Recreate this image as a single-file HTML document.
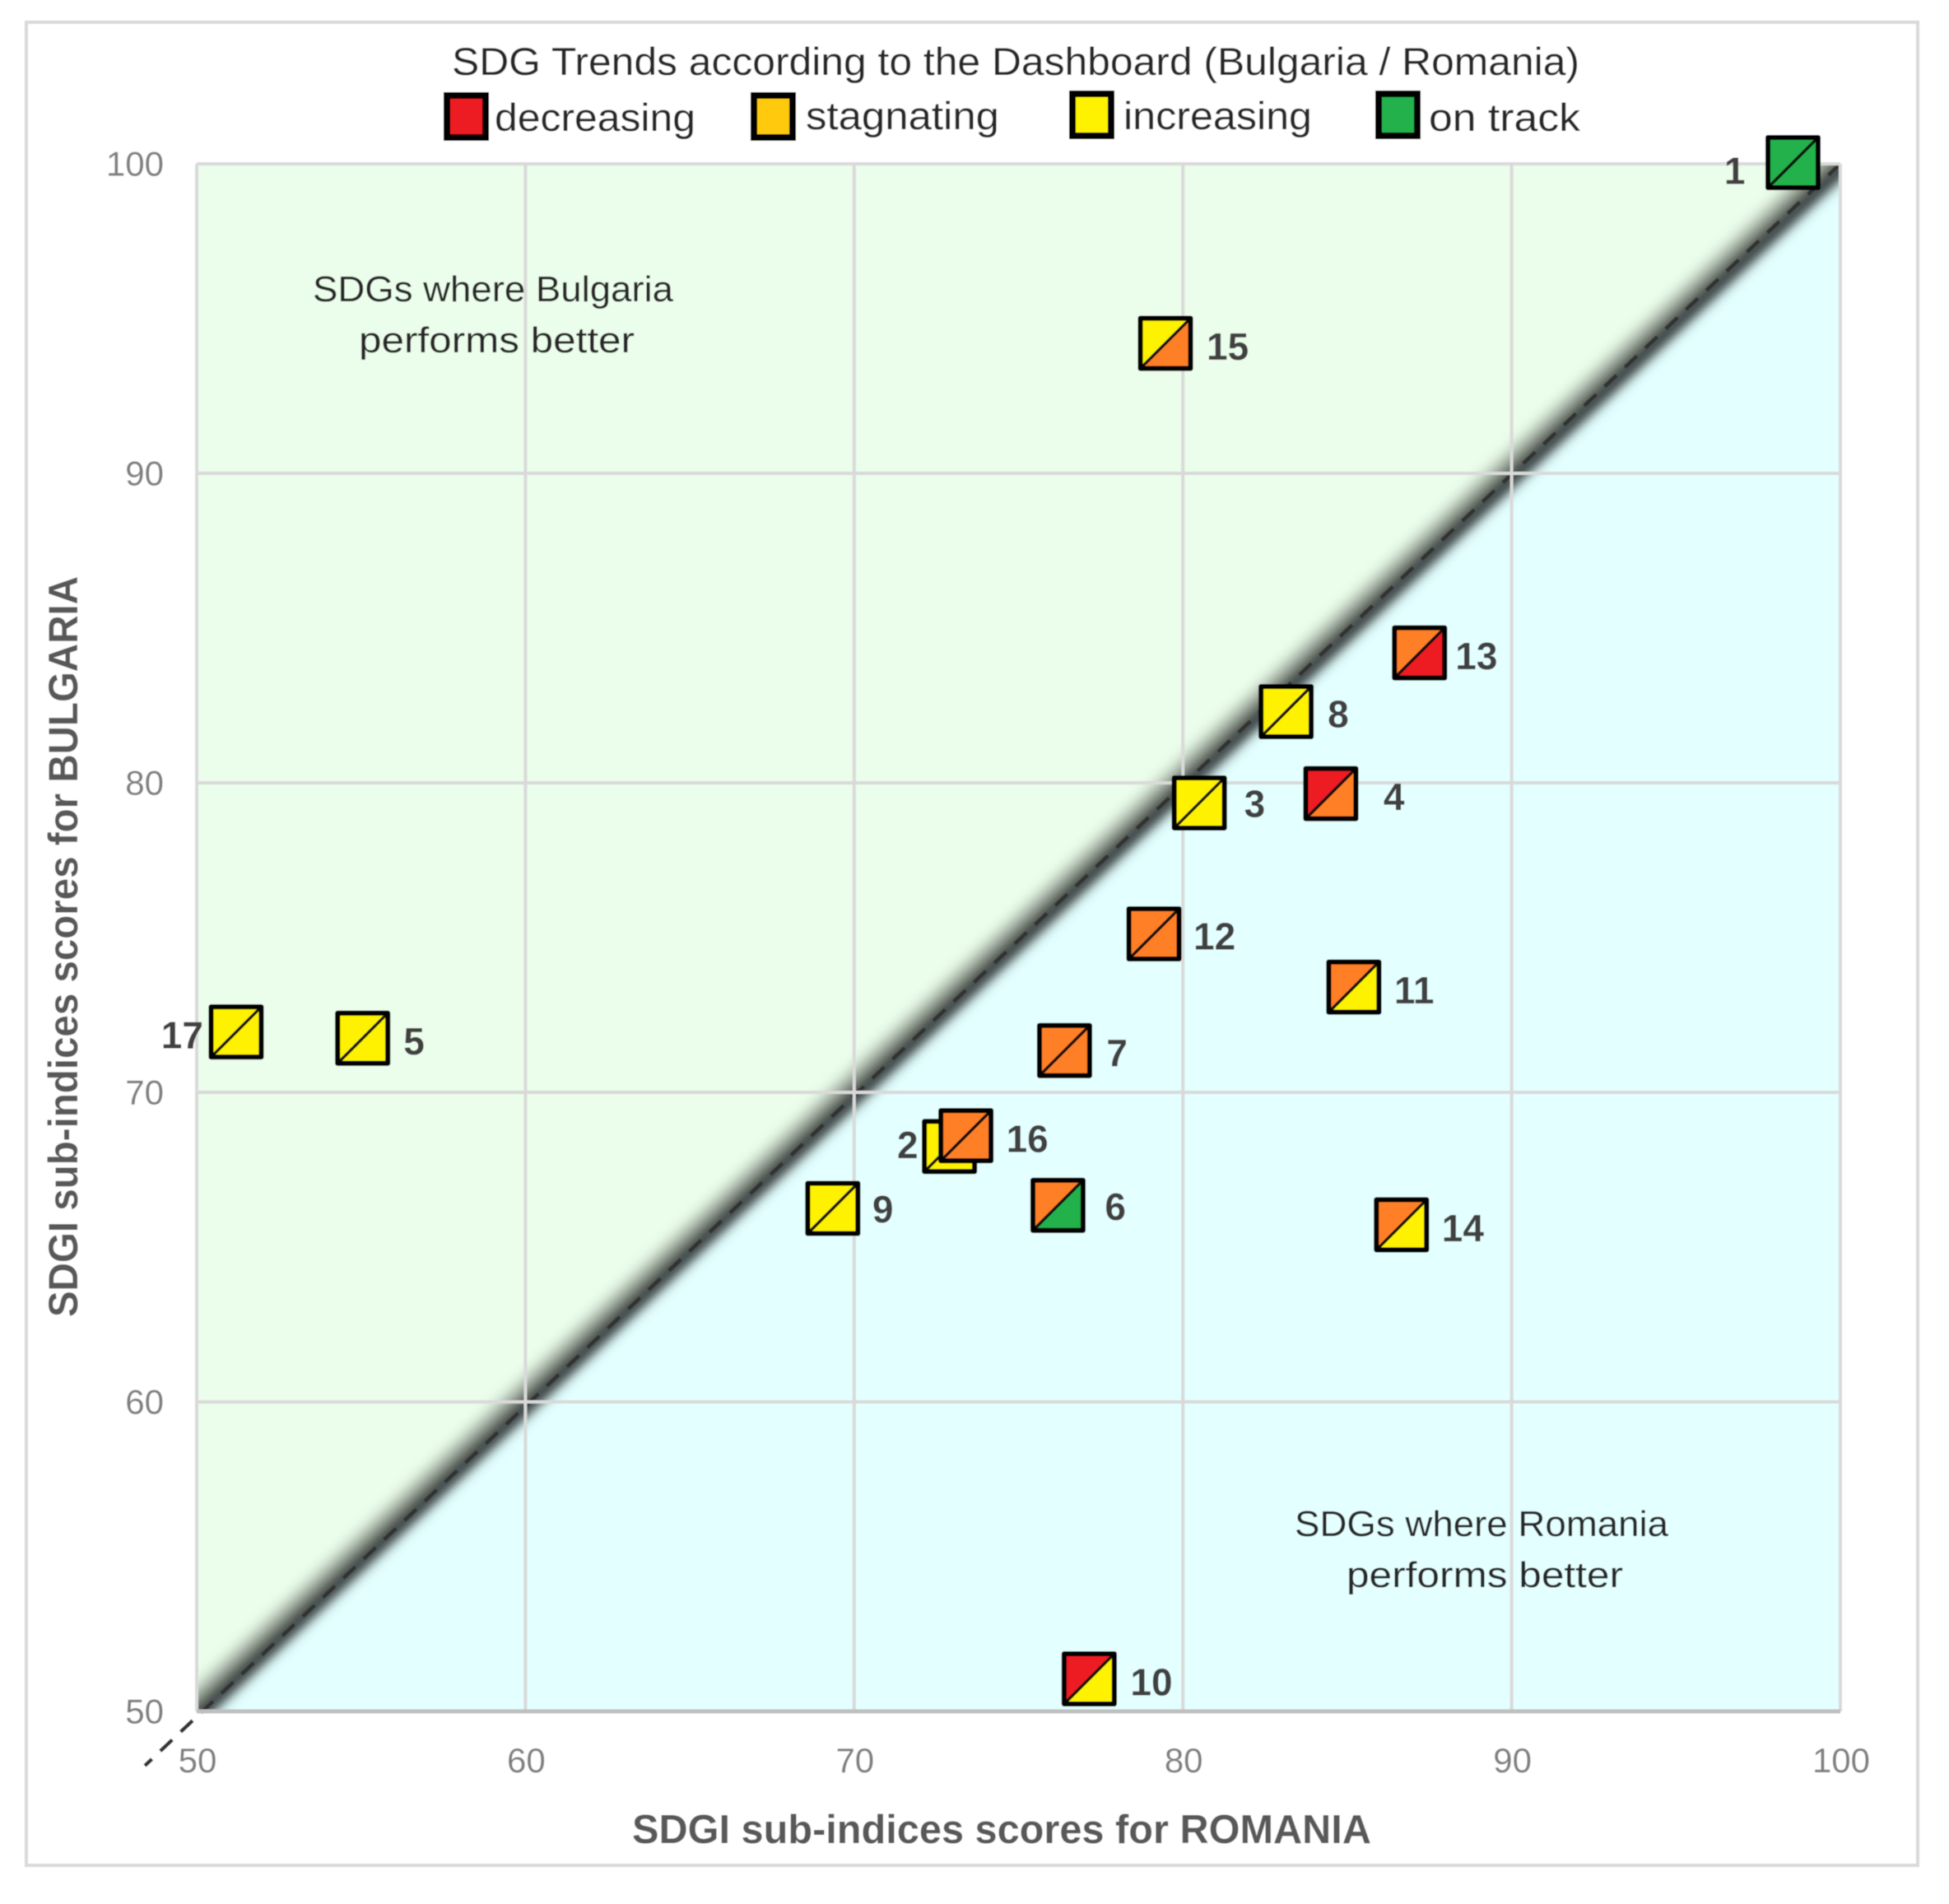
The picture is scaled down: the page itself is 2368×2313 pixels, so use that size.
<!DOCTYPE html>
<html lang="en">
<head>
<meta charset="utf-8">
<title>SDG Trends: Bulgaria vs Romania</title>
<style>
html,body{margin:0;padding:0;background:#fff;}
body{width:2368px;height:2313px;overflow:hidden;}
svg{display:block;font-family:"Liberation Sans",sans-serif;}
</style>
</head>
<body>
<svg id="chart" xmlns="http://www.w3.org/2000/svg" width="2368" height="2313" viewBox="0 0 2368 2313">
  <defs>
    <filter id="band-blur-wide" filterUnits="userSpaceOnUse" x="0" y="0" width="2368" height="2313"><feGaussianBlur stdDeviation="10"/></filter>
    <filter id="band-blur-core" filterUnits="userSpaceOnUse" x="0" y="0" width="2368" height="2313"><feGaussianBlur stdDeviation="6"/></filter>
    <filter id="soft" filterUnits="userSpaceOnUse" x="0" y="0" width="2368" height="2313"><feGaussianBlur stdDeviation="0.6"/></filter>
    <clipPath id="plot-clip"><rect x="239" y="199" width="1997" height="1880"/></clipPath>
  </defs>
  <g id="root" filter="url(#soft)">
    <rect x="32" y="27" width="2298" height="2239" fill="#fff" stroke="#d9d9d9" stroke-width="4"/>
    <g id="plot"></g>
    <text x="549" y="91" font-size="47" fill="#262626" textLength="1370" lengthAdjust="spacingAndGlyphs">SDG Trends according to the Dashboard (Bulgaria / Romania)</text>
    <g>
      <rect x="543" y="116" width="47" height="51" fill="#ED1C24" stroke="#000" stroke-width="8"/>
      <text x="601" y="159" font-size="47" fill="#262626" textLength="244" lengthAdjust="spacingAndGlyphs">decreasing</text>
      <rect x="916" y="116" width="47" height="51" fill="#FFC90E" stroke="#000" stroke-width="8"/>
      <text x="979" y="157" font-size="47" fill="#262626" textLength="235" lengthAdjust="spacingAndGlyphs">stagnating</text>
      <rect x="1303" y="114" width="47" height="51" fill="#FFF200" stroke="#000" stroke-width="8"/>
      <text x="1365" y="157" font-size="47" fill="#262626" textLength="229" lengthAdjust="spacingAndGlyphs">increasing</text>
      <rect x="1675" y="114" width="47" height="51" fill="#22B14C" stroke="#000" stroke-width="8"/>
      <text x="1736" y="159" font-size="47" fill="#262626" textLength="184" lengthAdjust="spacingAndGlyphs">on track</text>
    </g>
    <text x="768" y="2239" font-size="49" font-weight="bold" fill="#595959" textLength="898" lengthAdjust="spacingAndGlyphs">SDGI sub-indices scores for ROMANIA</text>
    <text transform="translate(94 1600) rotate(-90)" x="0" y="0" font-size="50" font-weight="bold" fill="#595959" textLength="900" lengthAdjust="spacingAndGlyphs">SDGI sub-indices scores for BULGARIA</text>
    <text x="380" y="366" font-size="44" fill="#262626" textLength="438" lengthAdjust="spacingAndGlyphs">SDGs where Bulgaria</text>
    <text x="436" y="428" font-size="44" fill="#262626" textLength="335" lengthAdjust="spacingAndGlyphs">performs better</text>
    <text x="1573" y="1866" font-size="44" fill="#262626" textLength="454" lengthAdjust="spacingAndGlyphs">SDGs where Romania</text>
    <text x="1636" y="1928" font-size="44" fill="#262626" textLength="336" lengthAdjust="spacingAndGlyphs">performs better</text>
    <g id="marks"></g>
  </g>
</svg>
<script>
const xTickLabels = [50, 60, 70, 80, 90, 100];
const yTickLabels = [50, 60, 70, 80, 90, 100];
const sdgIds        = [1, 2, 3, 4, 5, 6, 7, 8, 9, 10, 11, 12, 13, 14, 15, 16, 17];
const romaniaScores = [98.56, 72.9, 80.5, 84.5, 55.05, 76.2, 76.4, 83.14, 69.35, 77.15, 85.2, 79.12, 87.2, 86.65, 79.47, 73.4, 51.2];
const bulgariaScores = [100.04, 68.25, 79.35, 79.65, 71.75, 66.35, 71.35, 82.3, 66.25, 51.05, 73.4, 75.12, 84.2, 65.72, 94.2, 68.6, 71.95];
const trendBulgaria = ['track','inc','inc','dec','inc','sta','sta','inc','inc','dec','sta','sta','sta','sta','inc','sta','inc'];
const trendRomania  = ['track','inc','inc','sta','inc','track','sta','inc','inc','inc','inc','sta','dec','inc','sta','sta','inc'];
const labelSides    = ['left','left','right','right','right','right','right','right','right','right','right','right','right','right','right','right','left'];

const NS = 'http://www.w3.org/2000/svg';
const PLOT = {left: 239, right: 2236, top: 199, bottom: 2079};
const AXIS = {min: 50, max: 100};
const trendColors = {dec: '#ED1C24', sta: '#FF7F27', inc: '#FFF200', track: '#22B14C'};
const labelGapExtra = {1: 9, 2: -11, 17: -9, 3: 5.5, 4: 15, 5: 0.5, 6: 8, 7: 2, 8: 1.5, 9: -1, 10: 1, 12: -1, 13: -5.5, 15: 1};
const labelRaise = {2: 6, 3: 3, 6: 2, 9: 3, 7: 1, 8: 1, 12: 1};

function sx(v) { return PLOT.left + (v - AXIS.min) / (AXIS.max - AXIS.min) * (PLOT.right - PLOT.left); }
function sy(v) { return PLOT.bottom - (v - AXIS.min) / (AXIS.max - AXIS.min) * (PLOT.bottom - PLOT.top); }
function add(parent, tag, attrs, text) {
  const el = document.createElementNS(NS, tag);
  for (const k in attrs) el.setAttribute(k, attrs[k]);
  if (text !== undefined) el.textContent = text;
  parent.appendChild(el);
  return el;
}

const plot = document.getElementById('plot');
const marks = document.getElementById('marks');

const bgUpper = add(plot, 'polygon', {points: [sx(50),sy(50),sx(50),sy(100),sx(100),sy(100)].join(' '), fill: '#EBFDEB'});


const bgLower = add(plot, 'polygon', {points: [sx(50),sy(50),sx(100),sy(100),sx(100),sy(50)].join(' '), fill: '#E4FFFF'});



const bandClip = add(plot, 'g', {'clip-path': 'url(#plot-clip)'});


const bandWide = add(bandClip, 'line', {x1: sx(45), y1: sy(45), x2: sx(105), y2: sy(105), stroke: '#000', 'stroke-width': 28, opacity: 0.5, filter: 'url(#band-blur-wide)', transform: 'translate(-2 -2)'});


const bandCore = add(bandClip, 'line', {x1: sx(45), y1: sy(45), x2: sx(105), y2: sy(105), stroke: '#000', 'stroke-width': 15, opacity: 0.6, filter: 'url(#band-blur-core)', transform: 'translate(3 5)'});



const parity = add(plot, 'line', {x1: sx(100), y1: sy(100), x2: 176, y2: 2145, stroke: '#333', 'stroke-width': 4.5, 'stroke-dasharray': '20 14'});



xTickLabels.forEach(function (t) {
  const g = add(plot, 'line', {x1: sx(t), y1: PLOT.top, x2: sx(t), y2: PLOT.bottom, stroke: '#d9d9d9', 'stroke-width': 4});
  
  
  const l = add(plot, 'text', {x: sx(t) + 1, y: 2153, 'font-size': 42, fill: '#7f7f7f', 'text-anchor': 'middle'}, t);
  
  
});
yTickLabels.forEach(function (t) {
  const g = add(plot, 'line', {x1: PLOT.left, y1: sy(t), x2: PLOT.right, y2: sy(t), stroke: t === 50 ? '#bfbfbf' : '#d9d9d9', 'stroke-width': t === 50 ? 5 : 4});
  
  
  const l = add(plot, 'text', {x: 199, y: sy(t) + 14.5, 'font-size': 42, fill: '#7f7f7f', 'text-anchor': 'end'}, t);
  
  
});

const HALF = 30.5;
sdgIds.forEach(function (id, i) {
  const cx = sx(romaniaScores[i]);
  const cy = sy(bulgariaScores[i]);
  const l = cx - HALF, r = cx + HALF, t = cy - HALF, b = cy + HALF;
  const g = add(marks, 'g', {});
  
  
  const upper = add(g, 'polygon', {points: [l,t,r,t,l,b].join(' '), fill: trendColors[trendBulgaria[i]]});
  
  
  const lower = add(g, 'polygon', {points: [r,t,r,b,l,b].join(' '), fill: trendColors[trendRomania[i]]});
  
  
  const diag = add(g, 'line', {x1: l, y1: b, x2: r, y2: t, stroke: '#111', 'stroke-width': 3.5});
  
  
  const box = add(g, 'rect', {x: l, y: t, width: HALF * 2, height: HALF * 2, fill: 'none', stroke: '#000', 'stroke-width': 6, 'stroke-linejoin': 'round'});
  
  
  const gap = 15 + (labelGapExtra[id] || 0);
  const isLeft = labelSides[i] === 'left';
  const tx = isLeft ? cx - 34 - gap : cx + 34 + gap;
  const ty = cy + (id === 1 ? 10 : 4) + 16 - (labelRaise[id] || 0);
  const lab = add(g, 'text', {x: tx, y: ty, 'font-size': 46, 'font-weight': 'bold', fill: '#404040', 'text-anchor': isLeft ? 'end' : 'start'}, id);
  
  
});
</script>
</body>
</html>
